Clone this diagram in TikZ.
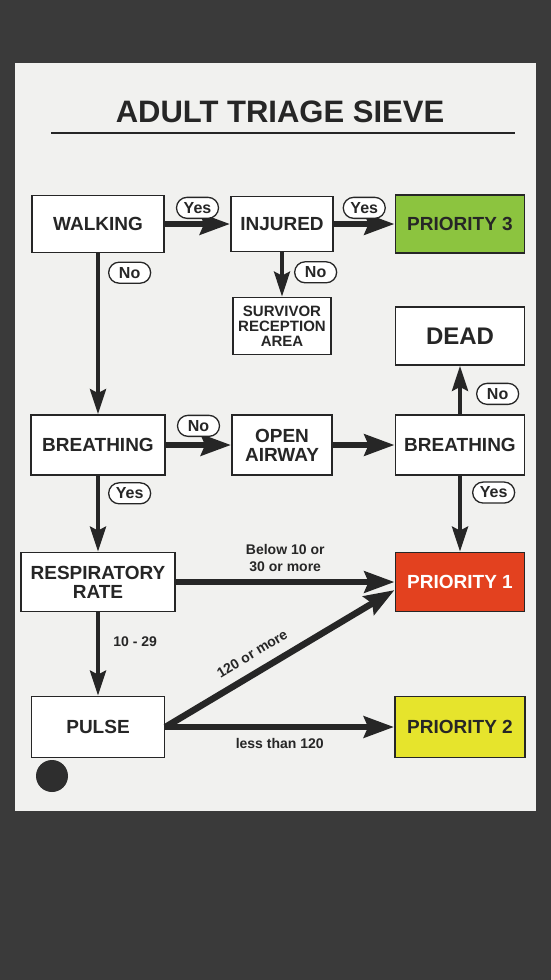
\documentclass[tikz,border=0pt]{standalone}
\usepackage{fontspec}
\setmainfont{Liberation Sans}
\usetikzlibrary{arrows.meta,positioning}

\definecolor{granite}{HTML}{3A3A3A}
\definecolor{card}{HTML}{F1F1EF}
\definecolor{ink}{HTML}{262626}
\definecolor{prgreen}{HTML}{8CC43F}
\definecolor{prred}{HTML}{E3411F}
\definecolor{pryellow}{HTML}{E6E42C}

\begin{document}
\begin{tikzpicture}[
        x=1pt, y=-1pt,
        box/.style={
            draw=ink,
            fill=white,
            text=ink,
            line width=1.8pt,
            inner sep=0pt,
            align=center,
            font=\fontsize{19}{19}\selectfont\bfseries
        },
        smallbox/.style={
            box,
            font=\fontsize{15}{15}\selectfont\bfseries
        },
        pill/.style={
            draw=ink,
            fill=white,
            text=ink,
            line width=1.3pt,
            rounded corners=10.5pt,
            minimum width=42pt,
            minimum height=21pt,
            inner sep=0pt,
            font=\fontsize{16}{16}\selectfont\bfseries
        },
        lbl/.style={
            text=ink,
            align=center,
            font=\fontsize{14}{17}\selectfont\bfseries
        },
        arr/.style={
            draw=ink,
            line width=6.5pt,
            -{Stealth[length=30pt,width=21pt,inset=4pt]}
        },
        arrv/.style={
            draw=ink,
            line width=4pt,
            -{Stealth[length=25pt,width=16pt,inset=4pt]}
        }
    ]

    % Fondo y tarjeta
    \useasboundingbox (0,0) rectangle (551,980);
    \fill[granite] (0,0) rectangle (551,980);
    \fill[card] (15,63) rectangle (536,811);
    \fill[granite!80!black] (52,776) circle (16pt);

    % Titulo
    \node[text=ink, font=\fontsize{31}{31}\selectfont\bfseries]
        (title) at (280,112) {ADULT TRIAGE SIEVE};
    \draw[ink, line width=2.5pt] (51,133) -- (515,133);

    % Cajas
    \node[box, minimum width=132pt, minimum height=57pt]
        (walking) at (98,224) {WALKING};

    \node[box, minimum width=102pt, minimum height=55pt]
        (injured) at (282,224) {INJURED};

    \node[box, fill=prgreen, minimum width=129pt, minimum height=58pt]
        (prio3) at (460,224) {PRIORITY 3};

    \node[smallbox, minimum width=98pt, minimum height=57pt]
        (survivor) at (282,326) {SURVIVOR\\RECEPTION\\AREA};

    \node[box, minimum width=129pt, minimum height=58pt,
        font=\fontsize{24}{24}\selectfont\bfseries]
        (dead) at (460,336) {DEAD};

    \node[box, minimum width=134pt, minimum height=60pt]
        (breath1) at (98,445) {BREATHING};

    \node[box, minimum width=100pt, minimum height=60pt]
        (airway) at (282,445) {OPEN\\AIRWAY};

    \node[box, minimum width=129pt, minimum height=60pt]
        (breath2) at (460,445) {BREATHING};

    \node[box, minimum width=154pt, minimum height=59pt]
        (resp) at (98,582) {RESPIRATORY\\RATE};

    \node[box, fill=prred, text=white, minimum width=129pt, minimum height=59pt]
        (prio1) at (460,582) {PRIORITY 1};

    \node[box, minimum width=133pt, minimum height=61pt]
        (pulse) at (98,727) {PULSE};

    \node[box, fill=pryellow, minimum width=130pt, minimum height=61pt]
        (prio2) at (460,727) {PRIORITY 2};

    % Flechas
    \draw[arr] (walking) -- (injured)
        node[pill, midway, above=5pt] {Yes};
    \draw[arr] (injured) -- (prio3)
        node[pill, midway, above=5pt] {Yes};
    \draw[arrv] (walking) -- (breath1)
        node[pill, pos=0.12, right=10pt] {No};
    \draw[arrv, line width=3.5pt] (injured) -- (survivor)
        node[pill, pos=0.45, right=12pt] {No};

    \draw[arr] (breath1) -- (airway)
        node[pill, midway, above=8pt] {No};
    \draw[arr] (airway) -- (breath2);
    \draw[arrv] (breath2) -- (dead)
        node[pill, pos=0.42, right=16pt] {No};
    \draw[arrv] (breath2) -- (prio1)
        node[pill, pos=0.22, right=12pt] {Yes};
    \draw[arrv] (breath1) -- (resp)
        node[pill, pos=0.23, right=10pt] {Yes};

    \draw[arr] (resp.east) -- (resp.east -| prio1.west)
        node[lbl, midway, above=4pt] {Below 10 or\\30 or more};
    \draw[arrv] (resp) -- (pulse)
        node[lbl, pos=0.35, right=10pt] {10 - 29};
    \draw[arr] (pulse.east) -- (prio1.187)
        node[lbl, pos=0.42, sloped, above=7pt] {120 or more};
    \draw[arr] (pulse.east) -- (pulse.east -| prio2.west)
        node[lbl, midway, below=5pt] {less than 120};

    \end{tikzpicture}
\end{document}
